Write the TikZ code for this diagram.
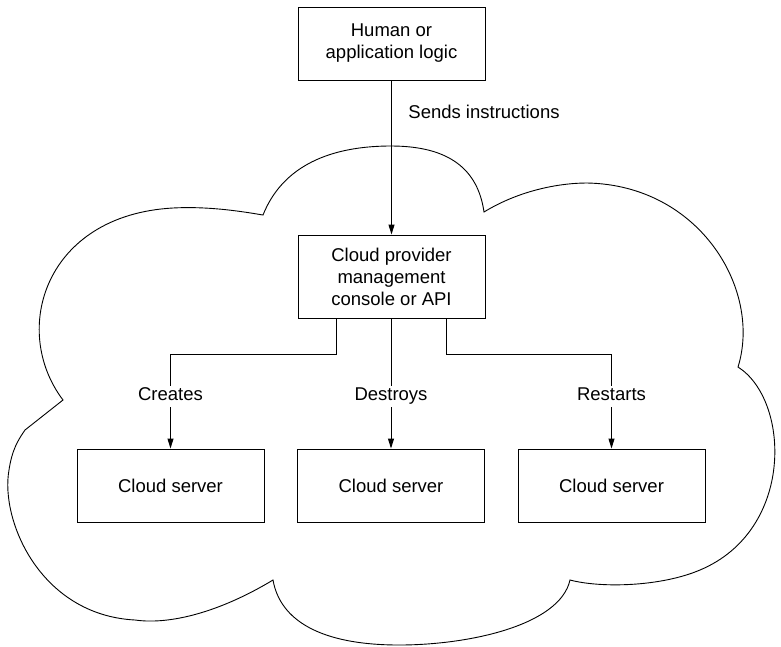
\documentclass[tikz,border=0pt]{standalone}
\usepackage{fontspec}
\setmainfont{Liberation Sans}
\usetikzlibrary{arrows.meta}
\begin{document}
\begin{tikzpicture}[x=1pt,y=-1pt,
  box/.style={draw, line width=1pt, minimum width=187pt, inner sep=0pt, align=center,
    font=\fontsize{18.5}{22}\selectfont},
  lbl/.style={fill=white, inner sep=2pt, text height=13pt, text depth=4pt,
    font=\fontsize{18.5}{22}\selectfont},
  arr/.style={line width=1pt, -{Triangle[length=10pt,width=6pt]}},
  cloudline/.style={line width=0.9pt, line join=miter}]
\useasboundingbox (0,0) rectangle (781,646);
% cloud outline
\draw[cloudline]
  (263,215) .. controls (285,160) and (340,146) .. (391,146)
            .. controls (450,146) and (478,170) .. (484,212)
            .. controls (520,190) and (560,183) .. (587,183)
            .. controls (700,185) and (762,290) .. (738,367)
            .. controls (790,400) and (795,530) .. (700,570)
            .. controls (660,587) and (600,588) .. (570,580)
            .. controls (560,625) and (470,645) .. (399,645)
            .. controls (320,645) and (280,620) .. (273,580)
            .. controls (220,612) and (170,625) .. (135,620)
            .. controls (40,615) and (0,520) .. (9,470)
            .. controls (12,450) and (18,440) .. (25,430)
            -- (63,400)
            .. controls (10,330) and (45,215) .. (173,208)
            .. controls (210,206) and (245,212) .. cycle;
% nodes
\node[box, minimum height=73pt] (human) at (391.5,43.5) {Human or\\application logic};
\node[box, minimum height=83pt] (api) at (391.5,276.5) {Cloud provider\\management\\console or API};
\node[box, minimum height=73pt] (s1) at (170.5,485.5) {Cloud server};
\node[box, minimum height=73pt] (s2) at (391,485.5) {Cloud server};
\node[box, minimum height=73pt] (s3) at (611.5,485.5) {Cloud server};
\node[font=\fontsize{18.5}{22}\selectfont] (send) at (484,112) {Sends instructions};
% connectors
\draw[arr] (human.south) -- (api.north);
\coordinate (l1) at ([xshift=-55.5pt]api.south);
\coordinate (l3) at ([xshift=54.5pt]api.south);
\draw[arr] (l1) -- ++(0,36) -| (s1.north);
\draw[arr] (api.south -| s2.north) -- (s2.north);
\draw[arr] (l3) -- ++(0,36) -| (s3.north);
\node[lbl] (creates) at (s1.north |- 0,396) {Creates};
\node[lbl] (destroys) at (s2.north |- 0,396) {Destroys};
\node[lbl] (restarts) at (s3.north |- 0,396) {Restarts};
\end{tikzpicture}
\end{document}
